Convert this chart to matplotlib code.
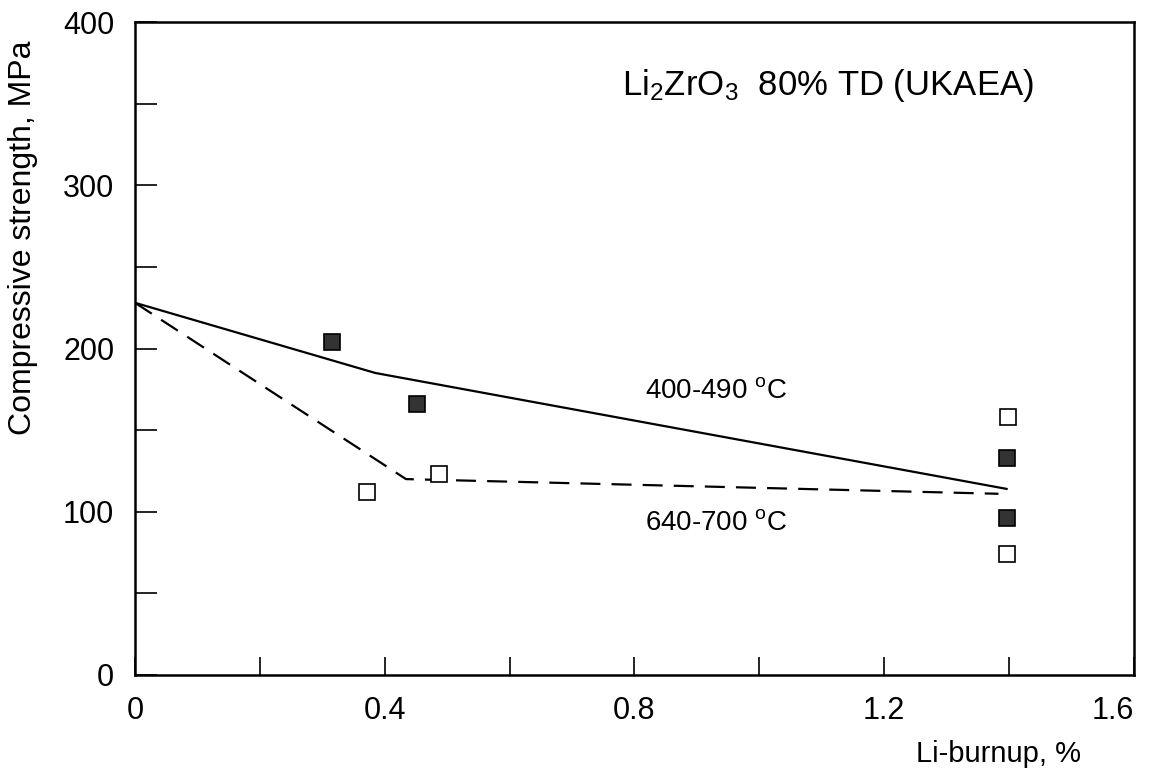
import matplotlib.pyplot as plt
from matplotlib.ticker import MultipleLocator

plt.rcParams["font.family"] = ["Liberation Sans", "DejaVu Sans"]
plt.rcParams["mathtext.fontset"] = "custom"
plt.rcParams["mathtext.rm"] = "Liberation Sans"
plt.rcParams["mathtext.default"] = "regular"

# measured points
filled_x = [0.316, 0.452, 1.397, 1.396]
filled_y = [204, 166, 133, 96]
open_x = [0.372, 0.487, 1.398, 1.396]
open_y = [112, 123, 158, 74]

# fitted trend lines
line_400_x = [0.0, 0.385, 1.396]
line_400_y = [228, 185, 114]
line_640_x = [0.0, 0.434, 1.383]
line_640_y = [228, 120, 111]

x_ticks = [0, 0.4, 0.8, 1.2, 1.6]
x_tick_labels = ["0", "0.4", "0.8", "1.2", "1.6"]

fig = plt.figure(figsize=(11.51, 7.73), dpi=100)
ax = fig.add_axes([0.1173, 0.1268, 0.8679, 0.8447])

ax.plot(line_400_x, line_400_y, color="black", linewidth=1.6)
ax.plot(line_640_x, line_640_y, color="black", linewidth=1.6,
        linestyle=(0, (9, 5)))
ax.plot(filled_x, filled_y, linestyle="none", marker="s", markersize=11,
        markerfacecolor="#333333", markeredgecolor="black", markeredgewidth=1.2)
ax.plot(open_x, open_y, linestyle="none", marker="s", markersize=11,
        markerfacecolor="white", markeredgecolor="black", markeredgewidth=1.2)

ax.text(0.817, 169.5, "400-490 $^{o}$C", fontsize=20, va="baseline")
ax.text(0.817, 89, "640-700 $^{o}$C", fontsize=20, va="baseline")
ax.text(0.78, 355, "Li$_2$ZrO$_3$  80% TD (UKAEA)", fontsize=25, va="baseline")

ax.set_xlim(0, 1.6)
ax.set_ylim(0, 400)
ax.set_xticks(x_ticks)
ax.set_xticklabels(x_tick_labels)
ax.xaxis.set_minor_locator(MultipleLocator(0.2))
ax.yaxis.set_major_locator(MultipleLocator(100))
ax.yaxis.set_minor_locator(MultipleLocator(50))
ax.tick_params(which="both", direction="in", labelsize=22, width=1.2)
ax.tick_params(axis="y", which="both", length=16, pad=15)
ax.tick_params(axis="x", which="both", length=13, pad=15)
# keep the last label inside the figure
ax.get_xticklabels()[-1].set_ha("right")
for sp in ax.spines.values():
    sp.set_linewidth(1.8)

ax.set_ylabel("Compressive strength, MPa", fontsize=23)
ax.yaxis.set_label_coords(-0.112, 0.669)
ax.yaxis.label.set_va("center")
ax.set_xlabel("Li-burnup, %", fontsize=21)
ax.xaxis.set_label_coords(0.864, -0.133)
ax.xaxis.label.set_va("baseline")

fig.savefig("out.png", dpi=100)
